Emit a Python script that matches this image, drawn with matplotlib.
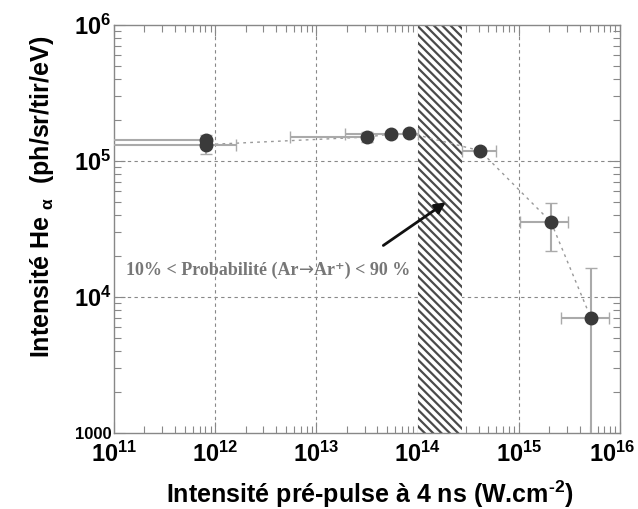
import matplotlib
matplotlib.use("Agg")
import matplotlib.pyplot as plt
import matplotlib.transforms as mtransforms
import numpy as np
from matplotlib.ticker import LogLocator, NullFormatter, FixedLocator

plt.rcParams['font.family'] = ['Liberation Sans', 'DejaVu Sans']
plt.rcParams['mathtext.fontset'] = 'custom'
plt.rcParams['mathtext.rm'] = 'Liberation Sans:bold'
plt.rcParams['mathtext.bf'] = 'Liberation Sans:bold'
plt.rcParams['mathtext.it'] = 'Liberation Sans:bold'
plt.rcParams['hatch.linewidth'] = 1.6
plt.rcParams['hatch.color'] = '#4a4a4a'

# Data
x_vals = [8.1e11, 8.1e11, 3.16e13, 5.46e13, 8.2e13, 4.14e14, 2.08e15, 5.16e15]
y_vals = [1.42e5, 1.32e5, 1.50e5, 1.58e5, 1.61e5, 1.19e5, 3.56e4, 7.0e3]
x_lo = [5e10, 5e10, 5.5e12, 1.9e13, 8.2e13, 2.75e14, 1.03e15, 2.61e15]
x_hi = [8.1e11, 1.6e12, 3.5e13, 1.0e14, 8.2e13, 5.96e14, 3.06e15, 7.78e15]
y_lo = [1.12e5, 1.32e5, 1.38e5, 1.50e5, 1.54e5, 1.13e5, 2.18e4, 100]
y_hi = [1.55e5, 1.32e5, 1.64e5, 1.67e5, 1.68e5, 1.25e5, 4.91e4, 1.63e4]
band = [1e14, 2.75e14]

xtick_vals = [1e11, 1e12, 1e13, 1e14, 1e15, 1e16]
xtick_labels = [r'$10^{11}$', r'$10^{12}$', r'$10^{13}$', r'$10^{14}$', r'$10^{15}$', r'$10^{16}$']
ytick_vals = [1e3, 1e4, 1e5, 1e6]
ytick_labels = ['1000', r'$10^{4}$', r'$10^{5}$', r'$10^{6}$']

fig = plt.figure(figsize=(6.38, 5.09), dpi=100)
ax = fig.add_axes([0.1787, 0.1493, 0.7931, 0.8016])
ax.set_xscale('log')
ax.set_yscale('log')
ax.set_xlim(1e11, 1e16)
ax.set_ylim(1e3, 1e6)

# grid at inner majors
for xv in xtick_vals[1:-1]:
    ax.axvline(xv, color='#888888', lw=0.8, ls=(0, (3, 3)), zorder=1)
for yv in ytick_vals[1:-1]:
    ax.axhline(yv, color='#888888', lw=0.8, ls=(0, (3, 3)), zorder=1)

# hatched band
ax.axvspan(band[0], band[1], facecolor='white', edgecolor='#4a4a4a', hatch='\\\\\\\\', lw=0, zorder=2)

x = np.array(x_vals); y = np.array(y_vals)
xerr = np.array([x - np.array(x_lo), np.array(x_hi) - x])
yerr = np.array([y - np.array(y_lo), np.array(y_hi) - y])

ax.plot(x, y, color='#999999', ls=(0, (2, 3)), lw=1.0, zorder=3)
ax.errorbar(x, y, xerr=xerr, yerr=yerr, fmt='none', ecolor='#aaaaaa', elinewidth=1.5,
            capsize=4, capthick=1.0, zorder=4)
ax.plot(x, y, 'o', color='#3a3a3a', ms=9, zorder=5)

# annotation text (three pieces so the arrow glyph comes from DejaVu)
tkw = dict(fontsize=13, color='#777777', zorder=6)
t1 = ax.text(1.32e11, 1.58e4, '10% < Probabilité (Ar', family=['Liberation Serif', 'DejaVu Serif'],
             va='center', ha='left', fontweight='bold', **tkw)
t2 = ax.annotate('→', xy=(1, 0), xycoords=t1, va='bottom', ha='left',
                 family=['DejaVu Sans'], fontweight='normal', **tkw)
t3 = ax.annotate('Ar⁺) < 90 %', xy=(1, 0), xycoords=t2, va='bottom', ha='left',
                 family=['Liberation Serif', 'DejaVu Serif'], fontweight='bold', **tkw)
ax.annotate('', xy=(2.0e14, 5.1e4), xytext=(4.35e13, 2.33e4),
            arrowprops=dict(arrowstyle='-|>', color='#111111', lw=2, mutation_scale=16), zorder=6)

# ticks
ax.xaxis.set_major_locator(FixedLocator(xtick_vals))
ax.set_xticklabels(xtick_labels)
ax.yaxis.set_major_locator(FixedLocator(ytick_vals))
ax.set_yticklabels(ytick_labels)
ax.xaxis.set_minor_locator(LogLocator(base=10, subs=np.arange(2, 10), numticks=20))
ax.yaxis.set_minor_locator(LogLocator(base=10, subs=np.arange(2, 10), numticks=20))
ax.xaxis.set_minor_formatter(NullFormatter())
ax.yaxis.set_minor_formatter(NullFormatter())
ax.tick_params(which='both', direction='in', top=True, right=True, color='#888888')
ax.tick_params(which='major', length=8, width=0.8, labelsize=17)
ax.tick_params(axis='x', which='major', pad=6)
ax.tick_params(axis='y', which='major', pad=2)
ax.tick_params(which='minor', length=5, width=0.8)
for lab in ax.get_yticklabels():
    if lab.get_text() == '1000':
        lab.set_fontsize(12)
        lab.set_fontweight('bold')
xl = ax.get_xticklabels()
xl[-1].set_transform(xl[-1].get_transform() + mtransforms.ScaledTranslation(-8/100, 0, fig.dpi_scale_trans))

for s in ax.spines.values():
    s.set_color('#888888')
    s.set_linewidth(1.0)

fig.text(370/638, 6/509, r'Intensité pré-pulse à 4 ns (W.cm$^{\text{-2}}$)', fontsize=18, fontweight='bold',
         ha='center', va='baseline')
fig.text(42/638, 1 - 197/509, r'Intensité He $_{α}$  (ph/sr/tir/eV)', fontsize=18, fontweight='bold',
         ha='center', va='center', rotation=90)

fig.savefig('out.png', dpi=100)
